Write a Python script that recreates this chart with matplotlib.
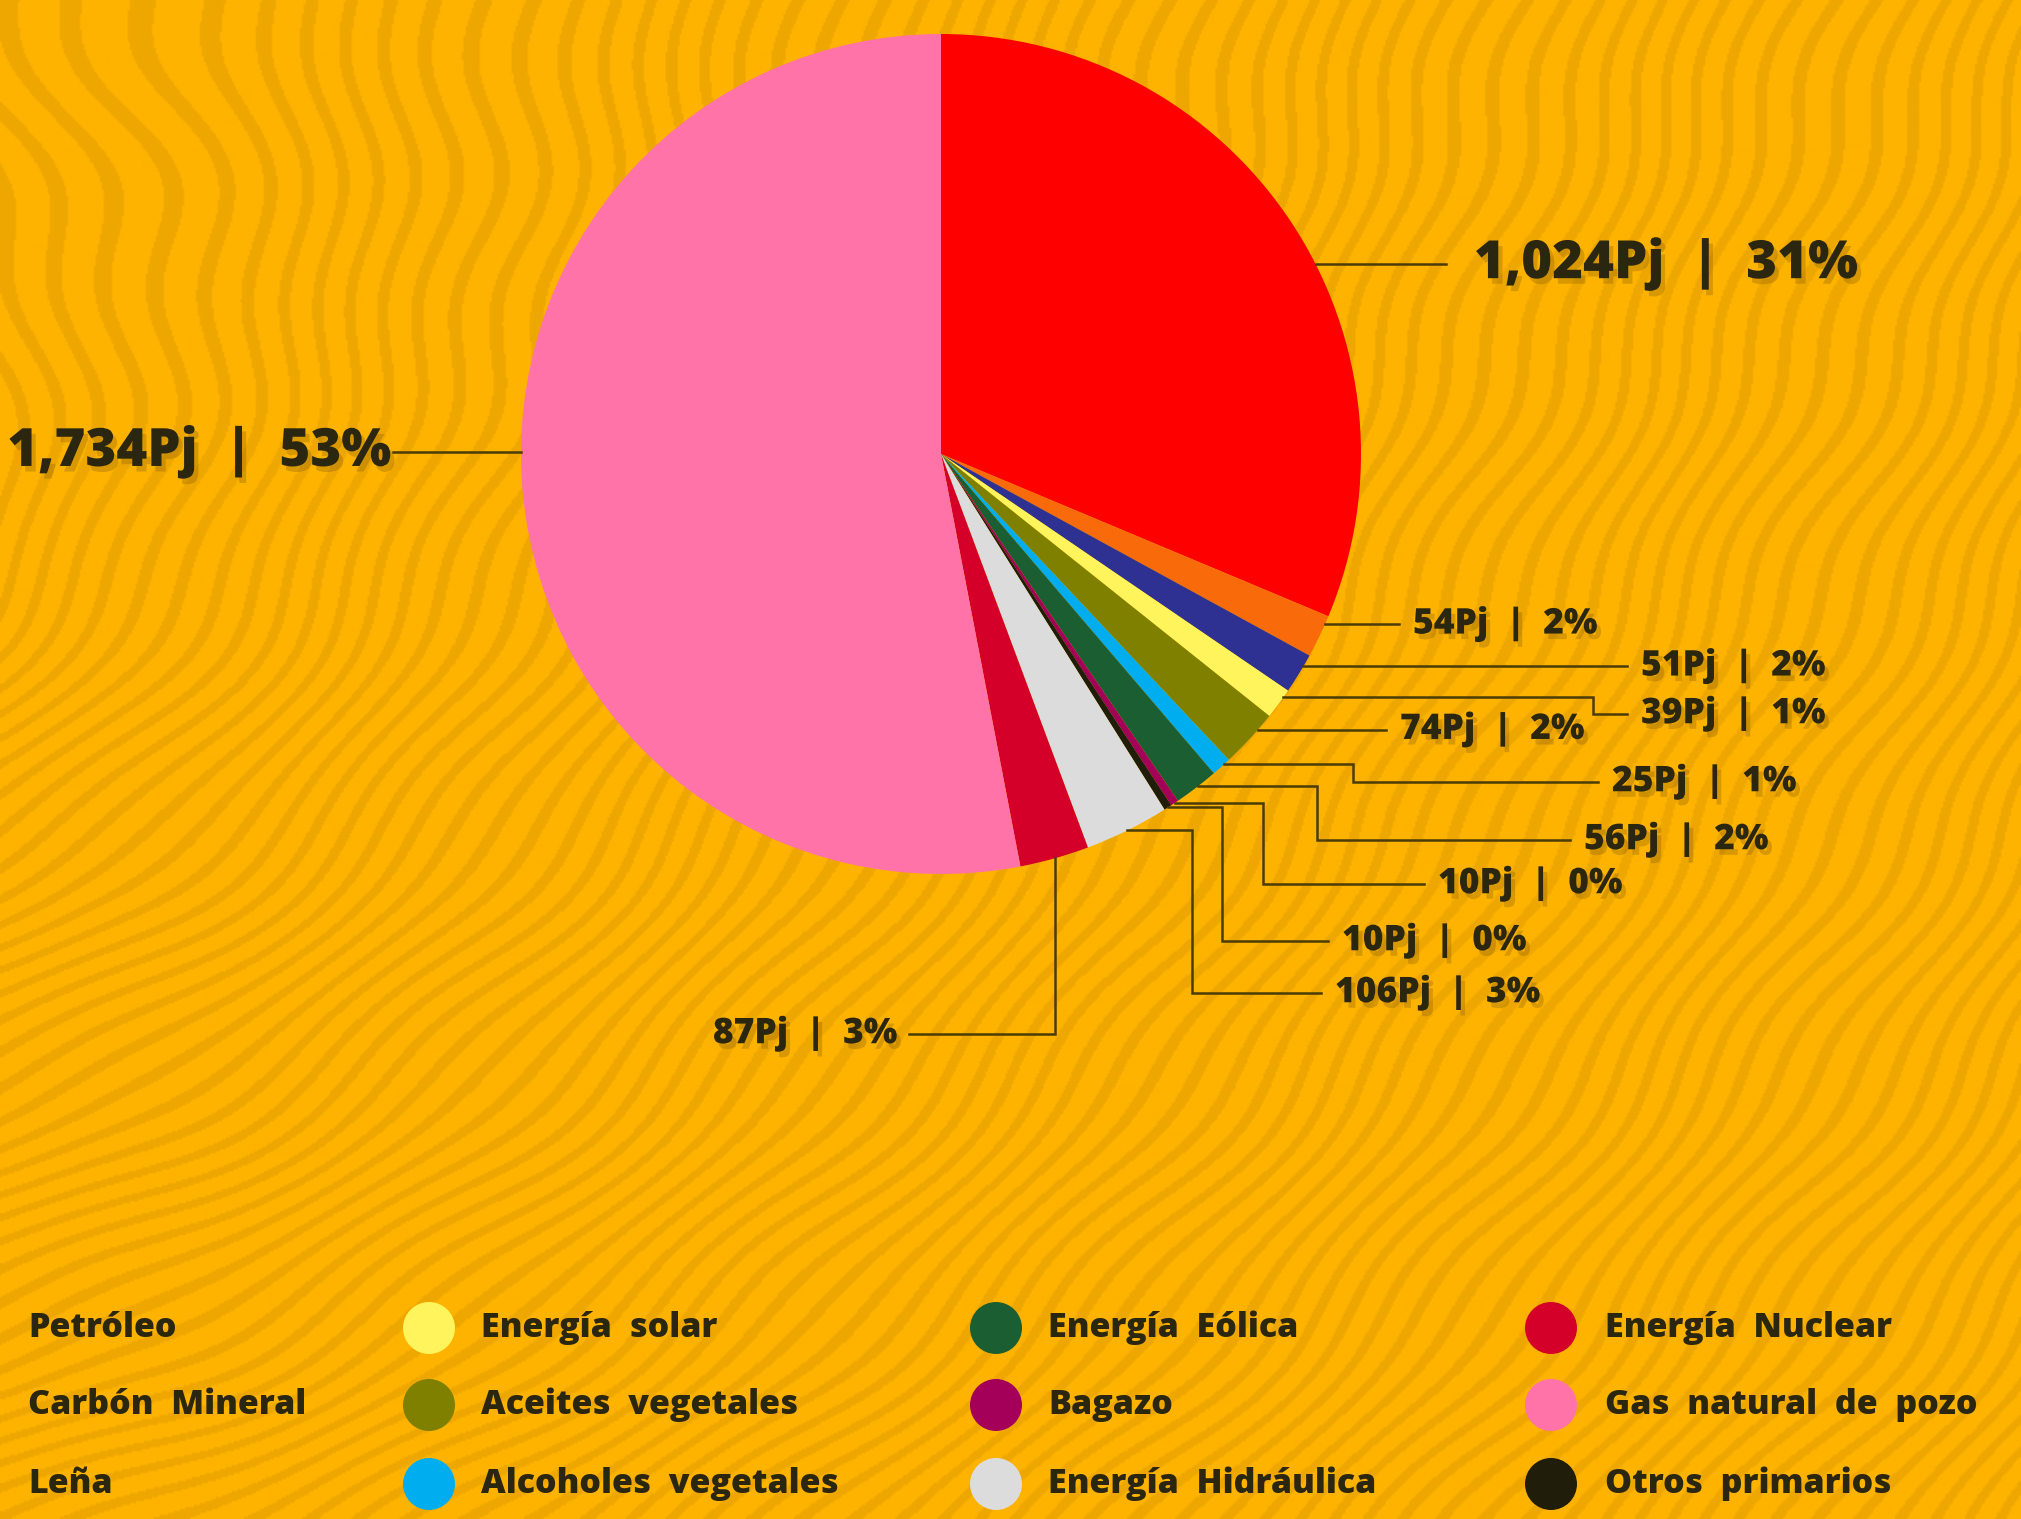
"""Balance de energía primaria: pie chart with leader-line labels."""
import matplotlib
matplotlib.use("Agg")
import matplotlib.pyplot as plt
import matplotlib.patheffects as pe
from matplotlib.patches import Circle
from matplotlib.colors import ListedColormap
import numpy as np

W, H = 2021, 1519

# ── data (clockwise from 12 o'clock) ─────────────────────────────────────────
SOURCES = ["Petróleo", "Leña", "Carbón Mineral", "Energía solar",
           "Aceites vegetales", "Alcoholes vegetales", "Energía Eólica",
           "Bagazo", "Otros primarios", "Energía Hidráulica",
           "Energía Nuclear", "Gas natural de pozo"]
PJ = [1024, 54, 51, 39, 74, 25, 56, 10, 10, 106, 87, 1734]
COLORS = ["#FF0000", "#F96B0A", "#2E3192", "#FFF45C", "#7F8000", "#00AEEF",
          "#1A5E32", "#A50059", "#201E0A", "#DCDCDC", "#D5002A", "#FF73A9"]

# legend columns (first column has no marker in the original)
LEGEND_COLS = [["Petróleo", "Carbón Mineral", "Leña"],
               ["Energía solar", "Aceites vegetales", "Alcoholes vegetales"],
               ["Energía Eólica", "Bagazo", "Energía Hidráulica"],
               ["Energía Nuclear", "Gas natural de pozo", "Otros primarios"]]

# ── layout (pixel coords, y from top) ────────────────────────────────────────
BG = "#FDB300"
BG_DARK = "#EEA700"
INK = "#2B2610"
LINE = "#4A3C08"
FONT = "Open Sans"
CX, CY, R = 941, 454, 420
# per slice: (position inside wedge, elbow x, label y, line end x)
LAYOUT = [
    (0.56, None, None, 1446),
    (0.2, None, None, 1399),
    (0.3, None, None, 1627),
    (0.25, 1593, 714, 1627),
    (0.3, None, None, 1386),
    (0.3, 1353, 782, 1598),
    (0.45, 1317, 840, 1570),
    (0.5, 1263, 884, 1424),
    (0.5, 1222, 941, 1328),
    (0.5, 1192, 993, 1321),
    (0.5, "down", 1034, 909),
    (0.53, None, None, 393),
]
LEG_ROWS = [1328, 1405, 1484]
LEG_TEXT_X = [28, 481, 1048, 1605]
LEG_DOT_X = [None, 429, 996, 1551]


def Y(p):
    return H - p


fig = plt.figure(figsize=(W / 100, H / 100), dpi=100)
fig.patch.set_facecolor(BG)
ax = fig.add_axes([0, 0, 1, 1])

# wavy background texture (decoration only)
gx, gy = np.meshgrid(np.arange(0, W, 2), np.arange(0, H, 2))
rr = np.hypot(gx + 120, gy - 560)
phase = 0.6 * rr + 0.4 * (gx * 0.45 + gy * 0.9)
tex = np.sin(0.24 * phase + 2.2 * np.sin(gy / 38.0) + 1.4 * np.sin(gx / 53.0))
ax.imshow(tex > 0.5, extent=(0, W, 0, H), origin="upper", zorder=0,
          cmap=ListedColormap([BG, BG_DARK]), interpolation="bilinear", aspect="auto")

wedges, _ = ax.pie(PJ, colors=COLORS, startangle=90, counterclock=False,
                   center=(CX, Y(CY)), radius=R,
                   wedgeprops=dict(linewidth=0, zorder=2))

total = sum(PJ)
shadow = [pe.SimplePatchShadow(offset=(3, -4), shadow_rgbFace="#7A5200", alpha=0.28),
          pe.Normal()]

for w, v, (frac, elbow, ly, xend) in zip(wedges, PJ, LAYOUT):
    ang = np.deg2rad(w.theta2 - frac * (w.theta2 - w.theta1))
    ax_x = CX + R * np.cos(ang)
    ax_y = Y(CY) + R * np.sin(ang)
    label = f"{v:,}Pj  |  {round(v / total * 100)}%"
    big = v > 500
    if elbow is None:
        xs, ys = [ax_x, xend], [ax_y, ax_y]
        ty = ax_y
    elif elbow == "down":
        xs, ys = [ax_x, ax_x, xend], [ax_y, Y(ly), Y(ly)]
        ty = Y(ly)
    else:
        xs, ys = [ax_x, elbow, elbow, xend], [ax_y, ax_y, Y(ly), Y(ly)]
        ty = Y(ly)
    ax.plot(xs, ys, color=LINE, lw=1.8, zorder=3, solid_joinstyle="miter")
    left = xend < ax_x
    gap = (2 if big else 12) if left else (28 if big else 14)
    tx = xend - gap if left else xend + gap
    ax.text(tx, ty, label, ha="right" if left else "left", va="center",
            fontsize=38 if big else 25.5, fontweight=800, family=FONT,
            color=INK, zorder=4, path_effects=shadow)

color_of = dict(zip(SOURCES, COLORS))
for col, (names, tx, dx) in enumerate(zip(LEGEND_COLS, LEG_TEXT_X, LEG_DOT_X)):
    for name, ry in zip(names, LEG_ROWS):
        if dx is not None:
            ax.add_patch(Circle((dx, Y(ry)), 26, facecolor=color_of[name],
                                edgecolor="none", zorder=3))
        ax.text(tx, Y(ry), name.replace(" ", "  "), ha="left", va="center",
                fontsize=24.5, fontweight=800, family=FONT, color=INK,
                zorder=4)

ax.set_xlim(0, W)
ax.set_ylim(0, H)
ax.set_aspect("auto")
ax.axis("off")

fig.savefig("out.png", dpi=100, facecolor=BG)
